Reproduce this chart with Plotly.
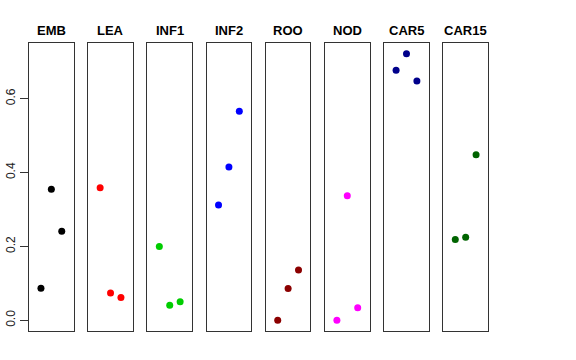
import plotly.graph_objects as go

panels = ["EMB", "LEA", "INF1", "INF2", "ROO", "NOD", "CAR5", "CAR15"]
colors = ["#000000", "#FF0000", "#00CD00", "#0000FF", "#8B0000", "#FF00FF", "#00008B", "#006400"]
xpos = [1, 2, 3]
values = [
    [0.087, 0.355, 0.241],
    [0.359, 0.074, 0.062],
    [0.200, 0.041, 0.050],
    [0.312, 0.415, 0.566],
    [0.000, 0.086, 0.136],
    [0.000, 0.337, 0.034],
    [0.677, 0.722, 0.648],
    [0.219, 0.225, 0.448],
]
yticks = [0.0, 0.2, 0.4, 0.6]
ytick_labels = ["0.0", "0.2", "0.4", "0.6"]

W, H = 576, 360
left0, pitch, pw = 29.0, 59.19, 44.7
ytop, ybot = 43.3, 331.0

fig = go.Figure()
layout = dict(width=W, height=H, margin=dict(l=0, r=0, t=0, b=0, autoexpand=False),
              plot_bgcolor="white", paper_bgcolor="white", showlegend=False,
              font=dict(family="Liberation Sans, Arial, sans-serif", color="#000"))
annotations = []
for i, (name, col, vals) in enumerate(zip(panels, colors, values)):
    xa = "xaxis" if i == 0 else f"xaxis{i+1}"
    ya = "yaxis" if i == 0 else f"yaxis{i+1}"
    xr = "x" if i == 0 else f"x{i+1}"
    yr = "y" if i == 0 else f"y{i+1}"
    x0 = (left0 + i * pitch) / W
    x1 = (left0 + i * pitch + pw) / W
    fig.add_trace(go.Scatter(x=xpos, y=vals, mode="markers", xaxis=xr, yaxis=yr,
                             marker=dict(color=col, size=7), hoverinfo="skip"))
    layout[xa] = dict(domain=[x0, x1], range=[-0.15, 4.15], showgrid=False, zeroline=False,
                      showticklabels=False, ticks="", showline=True, mirror=True,
                      linecolor="#333", linewidth=1, anchor=yr, automargin=False)
    ydict = dict(domain=[1 - ybot / H, 1 - ytop / H], range=[-0.029, 0.750], showgrid=False,
                 zeroline=False, showline=True, mirror=True, linecolor="#333", linewidth=1,
                 anchor=xr, automargin=False)
    if i == 0:
        ydict.update(tickmode="array", tickvals=yticks, ticktext=ytick_labels, ticks="outside",
                     ticklen=8, tickcolor="#333", tickangle=-90,
                     tickfont=dict(size=12, color="#222"))
    else:
        ydict.update(showticklabels=False, ticks="", matches="y")
    layout[ya] = ydict
    annotations.append(dict(text=f"<b>{name}</b>", x=(x0 + x1) / 2, y=1 - 30 / H,
                            xref="paper", yref="paper", showarrow=False,
                            font=dict(size=13, color="#000"), xanchor="center", yanchor="middle"))
layout["annotations"] = annotations
fig.update_layout(**layout)
fig.write_html("out.html", config={"displayModeBar": False, "staticPlot": True},
               post_script="document.body.style.margin='0px';")
